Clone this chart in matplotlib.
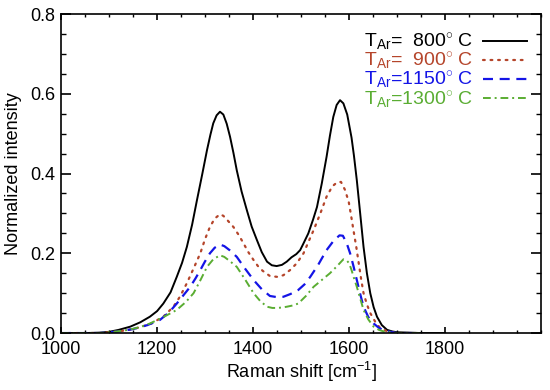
import matplotlib
matplotlib.use("Agg")
import matplotlib.pyplot as plt
from matplotlib.ticker import MultipleLocator

plt.rcParams['font.family'] = ['Liberation Sans', 'DejaVu Sans']
plt.rcParams['mathtext.fontset'] = 'custom'
plt.rcParams['mathtext.rm'] = 'Liberation Sans'
plt.rcParams['mathtext.it'] = 'Liberation Sans:italic'
plt.rcParams['mathtext.bf'] = 'Liberation Sans:bold'

# ---- data ----
x_800 = [1000, 1050, 1080, 1100, 1120, 1144, 1165, 1185, 1200, 1213, 1228, 1241, 1252, 1262, 1273,
         1283, 1294, 1304, 1311, 1317, 1324, 1331, 1338, 1345, 1352, 1359, 1366, 1376, 1387, 1397,
         1408, 1418, 1429, 1439, 1449, 1460, 1470, 1480, 1490, 1498, 1505, 1515, 1525, 1533, 1543,
         1553, 1560, 1567, 1574, 1581, 1588, 1596, 1605, 1610, 1616, 1623, 1630, 1637, 1644, 1651,
         1658, 1668, 1679, 1690, 1700, 1750, 1800]
y_800 = [0.0, 0.0, 0.001, 0.003, 0.008, 0.016, 0.027, 0.041, 0.055, 0.074, 0.102, 0.141, 0.176, 0.216, 0.272,
         0.333, 0.398, 0.459, 0.497, 0.526, 0.546, 0.555, 0.548, 0.525, 0.492, 0.452, 0.408, 0.355, 0.308, 0.267,
         0.233, 0.203, 0.179, 0.170, 0.168, 0.171, 0.179, 0.190, 0.198, 0.208, 0.225, 0.250, 0.285, 0.316, 0.375,
         0.442, 0.495, 0.542, 0.572, 0.584, 0.576, 0.548, 0.490, 0.445, 0.383, 0.300, 0.216, 0.150, 0.100, 0.065,
         0.041, 0.020, 0.008, 0.004, 0.002, 0.0, 0.0]

x_900 = [1000, 1080, 1120, 1150, 1185, 1213, 1234, 1248, 1262, 1276, 1290, 1300, 1310, 1320, 1331,
         1338, 1345, 1359, 1370, 1380, 1390, 1401, 1410, 1420, 1435, 1450, 1463, 1477, 1491, 1505,
         1515, 1526, 1540, 1553, 1565, 1575, 1583, 1591, 1599, 1604, 1609, 1615, 1620, 1625, 1630,
         1637, 1644, 1655, 1665, 1680, 1700, 1750]
y_900 = [0.0, 0.0, 0.004, 0.010, 0.022, 0.041, 0.066, 0.092, 0.125, 0.162, 0.200, 0.236, 0.266, 0.287, 0.298,
         0.294, 0.285, 0.266, 0.246, 0.225, 0.203, 0.183, 0.168, 0.156, 0.143, 0.141, 0.145, 0.158, 0.175, 0.200,
         0.228, 0.258, 0.300, 0.342, 0.368, 0.378, 0.379, 0.360, 0.330, 0.295, 0.258, 0.215, 0.175, 0.135, 0.100,
         0.072, 0.050, 0.027, 0.012, 0.004, 0.0, 0.0]

x_1150 = [1000, 1080, 1120, 1150, 1180, 1206, 1225, 1241, 1255, 1269, 1280, 1290, 1300, 1310, 1320,
          1331, 1340, 1352, 1366, 1383, 1401, 1418, 1435, 1450, 1463, 1478, 1494, 1507, 1519, 1535,
          1553, 1568, 1580, 1587, 1595, 1602, 1609, 1616, 1623, 1630, 1640, 1651, 1662, 1672, 1690,
          1700, 1750]
y_1150 = [0.0, 0.0, 0.004, 0.010, 0.020, 0.033, 0.052, 0.074, 0.095, 0.116, 0.137, 0.158, 0.180, 0.200, 0.214,
          0.222, 0.218, 0.207, 0.191, 0.162, 0.133, 0.110, 0.093, 0.090, 0.091, 0.098, 0.108, 0.122, 0.141, 0.170,
          0.208, 0.232, 0.245, 0.244, 0.225, 0.200, 0.168, 0.133, 0.098, 0.066, 0.040, 0.024, 0.013, 0.007, 0.002,
          0.0, 0.0]

x_1300 = [1000, 1080, 1110, 1140, 1165, 1185, 1213, 1241, 1260, 1276, 1290, 1304, 1317, 1331, 1340,
          1352, 1366, 1383, 1401, 1415, 1429, 1440, 1450, 1460, 1470, 1482, 1494, 1510, 1526, 1543,
          1560, 1575, 1588, 1595, 1600, 1605, 1610, 1616, 1623, 1630, 1640, 1651, 1662, 1672, 1700,
          1750]
y_1300 = [0.0, 0.0, 0.003, 0.008, 0.015, 0.024, 0.040, 0.058, 0.078, 0.100, 0.132, 0.166, 0.185, 0.195, 0.191,
          0.180, 0.166, 0.135, 0.100, 0.080, 0.066, 0.063, 0.063, 0.064, 0.066, 0.069, 0.074, 0.093, 0.116, 0.133,
          0.150, 0.168, 0.185, 0.182, 0.175, 0.158, 0.138, 0.116, 0.087, 0.058, 0.034, 0.016, 0.008, 0.004, 0.0,
          0.0]

labels = ["T$_{\\mathrm{Ar}}$=  800$^{\\circ}$ C",
          "T$_{\\mathrm{Ar}}$=  900$^{\\circ}$ C",
          "T$_{\\mathrm{Ar}}$=1150$^{\\circ}$ C",
          "T$_{\\mathrm{Ar}}$=1300$^{\\circ}$ C"]
colors = ["#000000", "#b5452b", "#1414e6", "#5aad32"]

fig = plt.figure(figsize=(5.5, 3.9), dpi=100)
ax = fig.add_axes([0.111, 0.146, 0.873, 0.818])

ax.plot(x_800, y_800, color=colors[0], lw=1.4, ls='-', label=labels[0])
ax.plot(x_900, y_900, color=colors[1], lw=1.6, ls=(0, (0.8, 2.6)), dash_capstyle='round', label=labels[1])
ax.plot(x_1150, y_1150, color=colors[2], lw=1.6, ls=(0, (4.5, 3)), label=labels[2])
ax.plot(x_1300, y_1300, color=colors[3], lw=1.4, ls=(0, (4, 2, 1, 2)), label=labels[3])

ax.set_xlim(1000, 2000)
ax.set_ylim(0, 0.8)
ax.set_xticks([1000, 1200, 1400, 1600, 1800])
ax.xaxis.set_minor_locator(MultipleLocator(50))
ax.set_yticks([0.0, 0.2, 0.4, 0.6, 0.8])
ax.set_yticklabels(["0.0", "0.2", "0.4", "0.6", "0.8"])
ax.yaxis.set_minor_locator(MultipleLocator(0.05))

ax.tick_params(axis='x', which='major', direction='in', top=True, bottom=True, length=4.6, width=1.2, labelsize=13, pad=6)
ax.tick_params(axis='x', which='minor', direction='in', top=True, bottom=True, length=2.3, width=1.0)
ax.tick_params(axis='y', which='major', direction='in', left=True, right=True, length=6.9, width=1.2, labelsize=13, pad=4)
ax.tick_params(axis='y', which='minor', direction='in', left=True, right=True, length=3.5, width=1.0)
for s in ax.spines.values():
    s.set_linewidth(1.2)

ax.set_xlabel("Raman shift [cm$^{-1}$]", fontsize=13, labelpad=1)
ax.set_ylabel("Normalized intensity", fontsize=13, labelpad=6)

leg = ax.legend(loc='upper right', bbox_to_anchor=(0.971, 0.945), frameon=False, markerfirst=False,
                labelcolor='linecolor', fontsize=14, handlelength=2.3, handletextpad=0.5,
                labelspacing=-0.1, borderaxespad=0, borderpad=0)

fig.savefig("out.png", dpi=100)
